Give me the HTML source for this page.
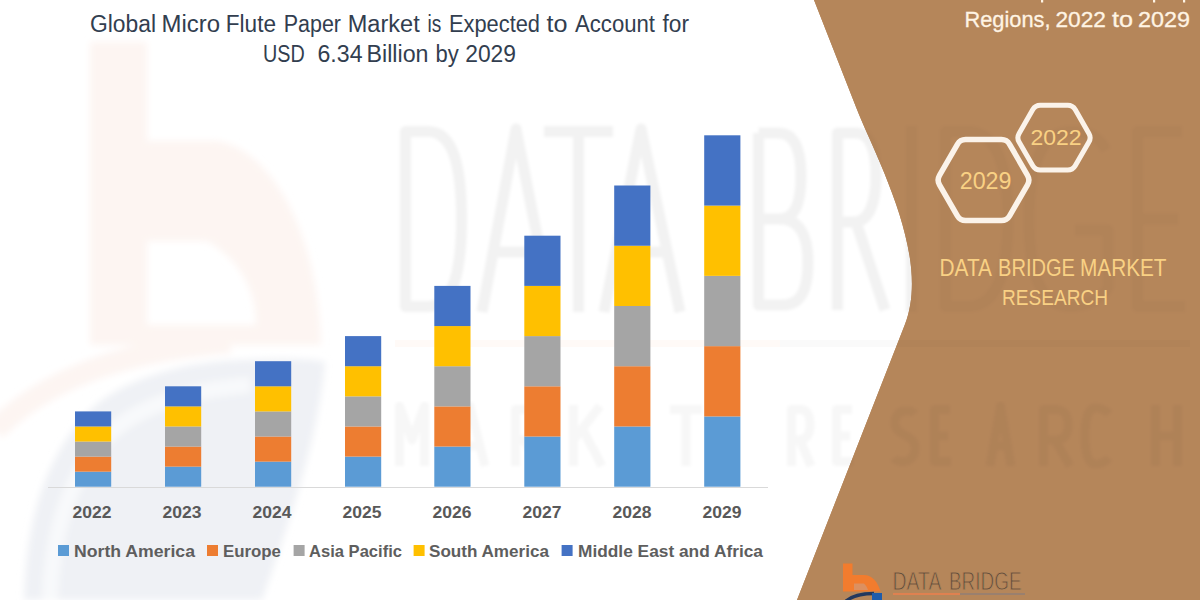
<!DOCTYPE html>
<html><head><meta charset="utf-8">
<style>
html,body{margin:0;padding:0;background:#fff;}
body{width:1200px;height:600px;overflow:hidden;position:relative;font-family:"Liberation Sans",sans-serif;}
svg{position:absolute;left:0;top:0;}
</style></head>
<body>
<svg width="1200" height="600" viewBox="0 0 1200 600" style="font-family:'Liberation Sans',sans-serif">
  <!-- brown panel -->
  <!-- watermark logo b -->
  <g id="wm-logo" filter="url(#soft2)">
    <path d="M24 600 C26 520 45 455 92 408 C130 375 190 362 240 360 C280 358 310 358 325 362 C318 440 290 520 262 600 Z" fill="#EFF1F5"/>
    
    <path d="M50 600 C52 530 70 475 108 435 C140 405 190 390 250 385" fill="none" stroke="#F8F9FB" stroke-width="16"/>
    <path d="M90 42 H147 V141 H218 C270 150 318 230 321 345 H90 Z M147 241 H207 C240 260 256 290 256 325 H147 Z" fill="#FDF5F2" fill-rule="evenodd"/>
    <path d="M-5 430 C40 385 110 352 230 342" fill="none" stroke="#FDF5F2" stroke-width="22"/>
  </g>
  <path id="panel" d="M814 0 L856.4 108 C875.8 157.3 931.5 256.8 904.8 324.8 L797 600 L1200 600 L1200 0 Z" fill="#B5865A"/>
  <defs>
    <clipPath id="pclip"><path d="M814 0 L856.4 108 C875.8 157.3 931.5 256.8 904.8 324.8 L797 600 L1200 600 L1200 0 Z"/></clipPath>
    <filter id="soft2" x="-10%" y="-10%" width="120%" height="120%"><feGaussianBlur stdDeviation="3.5"/></filter>
    <filter id="soft3" x="-20%" y="-20%" width="140%" height="140%"><feGaussianBlur stdDeviation="0.6"/></filter>
    <filter id="soft" x="-5%" y="-5%" width="110%" height="110%"><feGaussianBlur stdDeviation="1.8"/></filter>
    <g id="bigletters">
    <path d="M405.5 131.5 V306.5 H428 C452 306.5 461.5 275 461.5 219 C461.5 163 452 131.5 428 131.5 Z"/>
    <path d="M482 312 L516 129 L552 312 M494 252 H540"/>
    <path d="M544 131.5 H613 M578.5 131.5 V312"/>
    <path d="M604 312 L641 129 L680 312 M616 252 H668"/>
    <path d="M758.5 133 V305 H783 C801 305 808 290 808 262 C808 235 799 219 780 219 H758.5 M780 219 C794 219 801 205 801 176 C801 148 794 133 778 133 H758.5"/>
    <path d="M837.5 310 V133 H856 C870 133 876 150 876 176 C876 205 868 222 854 222 H837.5 M856 222 L885 310"/>
    <path d="M911.5 126 V312"/>
    <path d="M945.5 131.5 V306.5 H968 C995 306.5 1008 275 1008 219 C1008 163 995 131.5 968 131.5 Z"/>
    <path d="M1106 150 C1098 135 1088 131.5 1070 131.5 C1042 131.5 1029 165 1029 219 C1029 275 1042 306.5 1070 306.5 C1088 306.5 1102 298 1108 288 V230 H1075"/>
    <path d="M1182 131.5 H1137.5 V306.5 H1185 M1137.5 219 H1178"/>
    </g>
  </defs>
  <g fill="none" stroke="#000" stroke-opacity="0.05" stroke-width="11" stroke-linejoin="round" filter="url(#soft)"><use href="#bigletters"/></g>
  <g clip-path="url(#pclip)"><rect x="780" y="0" width="420" height="600" fill="#B5865A"/>
  <g fill="none" stroke="#000" stroke-opacity="0.025" stroke-width="11" stroke-linejoin="round" filter="url(#soft)"><use href="#bigletters"/></g>
  </g>
  <rect x="395" y="340" width="385" height="7" fill="#FF6A00" fill-opacity="0.03"/>
  <rect x="780" y="340" width="410" height="7" fill="#000" fill-opacity="0.02"/>
  <g fill="none" stroke="#000" stroke-opacity="0.03" stroke-width="9" stroke-linejoin="round" filter="url(#soft)">
    <path d="M399.5 466 V406 L412 440 L424.5 406 V466"/>
    <path d="M455 466 L470 406 L485 466 M460 446 H480"/>
    <path d="M515.5 466 V409.5 H525 C533 409.5 536 415 536 425 C536 435 532 440 524 440 H515.5 M525 440 L538 466"/>
    <path d="M573.5 405 V466 M573.5 440 L600 406 M583 430 L602 466"/>
    <path d="M647 409.5 H631.5 V461.5 H648 M631.5 436 H645"/>
    <path d="M670 409.5 H702 M686 409.5 V466"/>
    <path d="M791.5 466 V409.5 H800 C808 409.5 810 415 810 425 C810 435 806 440 799 440 H791.5 M800 440 L811 466"/>
    <path d="M852 409.5 H836.5 V461.5 H853 M836.5 436 H850"/>
    <path d="M915 414 C911 409 895 408 895 423 C895 437 915 433 915 448 C915 464 898 464 894 458"/>
    <path d="M950 409.5 H934.5 V461.5 H951 M934.5 436 H948"/>
    <path d="M990 466 L1000.5 406 L1011 466 M994 446 H1007"/>
    <path d="M1043.5 466 V409.5 H1055 C1065 409.5 1068 415 1068 425 C1068 435 1064 440 1055 440 H1043.5 M1055 440 L1070 466"/>
    <path d="M1109 414 C1105 409 1100 408 1095 408 C1088 408 1085 420 1085 436 C1085 452 1088 464 1095 464 C1100 464 1105 463 1109 458"/>
    <path d="M1155.5 405 V466 M1177.5 405 V466 M1155.5 436 H1177.5"/>
  </g>
  <!-- axis -->
  <rect x="48" y="487" width="720" height="1" fill="#D9D9D9"/>

  <!-- bars -->
  <g id="bars">
<rect x="75" y="471.64" width="36.2" height="15.07" fill="#5B9BD5"/>
<rect x="75" y="456.58" width="36.2" height="15.07" fill="#ED7D31"/>
<rect x="75" y="441.52" width="36.2" height="15.07" fill="#A5A5A5"/>
<rect x="75" y="426.46" width="36.2" height="15.07" fill="#FFC000"/>
<rect x="75" y="411.40" width="36.2" height="15.07" fill="#4472C4"/>
<rect x="165" y="466.62" width="36.2" height="20.09" fill="#5B9BD5"/>
<rect x="165" y="446.54" width="36.2" height="20.09" fill="#ED7D31"/>
<rect x="165" y="426.46" width="36.2" height="20.09" fill="#A5A5A5"/>
<rect x="165" y="406.38" width="36.2" height="20.09" fill="#FFC000"/>
<rect x="165" y="386.30" width="36.2" height="20.09" fill="#4472C4"/>
<rect x="255" y="461.60" width="36.2" height="25.11" fill="#5B9BD5"/>
<rect x="255" y="436.50" width="36.2" height="25.11" fill="#ED7D31"/>
<rect x="255" y="411.40" width="36.2" height="25.11" fill="#A5A5A5"/>
<rect x="255" y="386.30" width="36.2" height="25.11" fill="#FFC000"/>
<rect x="255" y="361.20" width="36.2" height="25.11" fill="#4472C4"/>
<rect x="345" y="456.58" width="36.2" height="30.13" fill="#5B9BD5"/>
<rect x="345" y="426.46" width="36.2" height="30.13" fill="#ED7D31"/>
<rect x="345" y="396.34" width="36.2" height="30.13" fill="#A5A5A5"/>
<rect x="345" y="366.22" width="36.2" height="30.13" fill="#FFC000"/>
<rect x="345" y="336.10" width="36.2" height="30.13" fill="#4472C4"/>
<rect x="434.3" y="446.54" width="36.2" height="40.17" fill="#5B9BD5"/>
<rect x="434.3" y="406.38" width="36.2" height="40.17" fill="#ED7D31"/>
<rect x="434.3" y="366.22" width="36.2" height="40.17" fill="#A5A5A5"/>
<rect x="434.3" y="326.06" width="36.2" height="40.17" fill="#FFC000"/>
<rect x="434.3" y="285.90" width="36.2" height="40.17" fill="#4472C4"/>
<rect x="524.3" y="436.50" width="36.2" height="50.21" fill="#5B9BD5"/>
<rect x="524.3" y="386.30" width="36.2" height="50.21" fill="#ED7D31"/>
<rect x="524.3" y="336.10" width="36.2" height="50.21" fill="#A5A5A5"/>
<rect x="524.3" y="285.90" width="36.2" height="50.21" fill="#FFC000"/>
<rect x="524.3" y="235.70" width="36.2" height="50.21" fill="#4472C4"/>
<rect x="614.2" y="426.46" width="36.2" height="60.25" fill="#5B9BD5"/>
<rect x="614.2" y="366.22" width="36.2" height="60.25" fill="#ED7D31"/>
<rect x="614.2" y="305.98" width="36.2" height="60.25" fill="#A5A5A5"/>
<rect x="614.2" y="245.74" width="36.2" height="60.25" fill="#FFC000"/>
<rect x="614.2" y="185.50" width="36.2" height="60.25" fill="#4472C4"/>
<rect x="704.2" y="416.42" width="36.2" height="70.29" fill="#5B9BD5"/>
<rect x="704.2" y="346.14" width="36.2" height="70.29" fill="#ED7D31"/>
<rect x="704.2" y="275.86" width="36.2" height="70.29" fill="#A5A5A5"/>
<rect x="704.2" y="205.58" width="36.2" height="70.29" fill="#FFC000"/>
<rect x="704.2" y="135.30" width="36.2" height="70.29" fill="#4472C4"/>
</g>

  <!-- title -->
<g font-size="23.3" fill="#323E4F">
  <text x="90.00" y="31.75" textLength="66.00" lengthAdjust="spacingAndGlyphs">Global</text>
  <text x="161.50" y="31.75" textLength="58.50" lengthAdjust="spacingAndGlyphs">Micro</text>
  <text x="225.75" y="31.75" textLength="50.25" lengthAdjust="spacingAndGlyphs">Flute</text>
  <text x="283.75" y="31.75" textLength="57.25" lengthAdjust="spacingAndGlyphs">Paper</text>
  <text x="347.75" y="31.75" textLength="72.00" lengthAdjust="spacingAndGlyphs">Market</text>
  <text x="427.50" y="31.75" textLength="13.75" lengthAdjust="spacingAndGlyphs">is</text>
  <text x="449.00" y="31.75" textLength="91.00" lengthAdjust="spacingAndGlyphs">Expected</text>
  <text x="546.50" y="31.75" textLength="21.00" lengthAdjust="spacingAndGlyphs">to</text>
  <text x="575.00" y="31.75" textLength="80.00" lengthAdjust="spacingAndGlyphs">Account</text>
  <text x="662.50" y="31.75" textLength="26.50" lengthAdjust="spacingAndGlyphs">for</text>
  <text x="263.00" y="61.5" textLength="41.75" lengthAdjust="spacingAndGlyphs">USD</text>
  <text x="317.50" y="61.5" textLength="45.00" lengthAdjust="spacingAndGlyphs">6.34</text>
  <text x="366.50" y="61.5" textLength="62.00" lengthAdjust="spacingAndGlyphs">Billion</text>
  <text x="435.50" y="61.5" textLength="23.25" lengthAdjust="spacingAndGlyphs">by</text>
  <text x="465.25" y="61.5" textLength="50.75" lengthAdjust="spacingAndGlyphs">2029</text>
</g>
  <!-- year labels -->
  <g font-weight="bold" font-size="17.4" fill="#595959">
    <text x="72.4" y="518.3" textLength="39" lengthAdjust="spacingAndGlyphs">2022</text>
    <text x="162.4" y="518.3" textLength="39" lengthAdjust="spacingAndGlyphs">2023</text>
    <text x="252.4" y="518.3" textLength="39" lengthAdjust="spacingAndGlyphs">2024</text>
    <text x="342.4" y="518.3" textLength="39" lengthAdjust="spacingAndGlyphs">2025</text>
    <text x="432.4" y="518.3" textLength="39" lengthAdjust="spacingAndGlyphs">2026</text>
    <text x="522.4" y="518.3" textLength="39" lengthAdjust="spacingAndGlyphs">2027</text>
    <text x="612.4" y="518.3" textLength="39" lengthAdjust="spacingAndGlyphs">2028</text>
    <text x="702.4" y="518.3" textLength="39" lengthAdjust="spacingAndGlyphs">2029</text>
  </g>

  <!-- legend -->
  <g font-weight="bold" font-size="16.7" fill="#5E5E5E">
    <rect x="58" y="545" width="11" height="11" fill="#5B9BD5"/>
    <text x="74" y="556.5" textLength="121" lengthAdjust="spacingAndGlyphs">North America</text>
    <rect x="207" y="545" width="11" height="11" fill="#ED7D31"/>
    <text x="223" y="556.5" textLength="58" lengthAdjust="spacingAndGlyphs">Europe</text>
    <rect x="293.6" y="545" width="11" height="11" fill="#A5A5A5"/>
    <text x="309" y="556.5" textLength="93" lengthAdjust="spacingAndGlyphs">Asia Pacific</text>
    <rect x="413.6" y="545" width="11" height="11" fill="#FFC000"/>
    <text x="429" y="556.5" textLength="120" lengthAdjust="spacingAndGlyphs">South America</text>
    <rect x="561.6" y="545" width="11" height="11" fill="#4472C4"/>
    <text x="578" y="556.5" textLength="185" lengthAdjust="spacingAndGlyphs">Middle East and Africa</text>
  </g>

  <!-- bottom logo -->
  <g id="logo">
    <path d="M843 563.5 H852.5 V575 H864 C872 575 878 582 880.5 591.5 H843 Z" fill="#F27B2E" filter="url(#soft3)"/>
    <path d="M854 583.5 H864 C866 585.5 867.5 588 868 590 H854 Z" fill="#DC9060" filter="url(#soft3)"/>
    <path d="M846 601 C852 596 862 593.5 874 593.5" fill="none" stroke="#22385E" stroke-width="3.5"/>
    <rect x="872" y="593" width="10" height="7" fill="#1F5CAB"/>
    <g font-size="25.2" fill="#5E4C3C" stroke="#B5865A" stroke-width="0.9"><text x="892.5" y="590" textLength="49" lengthAdjust="spacingAndGlyphs">DATA</text><text x="949" y="590" textLength="72.5" lengthAdjust="spacingAndGlyphs">BRIDGE</text></g>
    <rect x="893" y="593" width="67" height="2" fill="#DF8150"/>
    <rect x="960" y="593" width="65" height="2" fill="#9A806E"/>
  </g>
  <!-- partial descenders of previous line -->
  <g fill="#FFF4E4">
    <rect x="1041" y="0" width="2.2" height="2.5"/>
    <rect x="1153" y="0" width="2.2" height="2.5"/>
    <rect x="1183" y="0" width="2.2" height="2.5"/>
  </g>
  <!-- right panel text -->
  <g font-size="22.5" fill="#FFF4E4" stroke="#FFF4E4" stroke-width="0.3"><text x="964.5" y="27" textLength="86" lengthAdjust="spacingAndGlyphs">Regions,</text><text x="1055.5" y="27" textLength="50.5" lengthAdjust="spacingAndGlyphs">2022</text><text x="1112" y="27" textLength="21" lengthAdjust="spacingAndGlyphs">to</text><text x="1138" y="27" textLength="52" lengthAdjust="spacingAndGlyphs">2029</text></g>

  <!-- hexagons -->
  <path d="M1088.9 133.4 Q1091.4 137.7 1088.9 142.0 L1075.2 165.8 Q1072.7 170.1 1067.7 170.1 L1040.3 170.1 Q1035.3 170.1 1032.8 165.8 L1019.1 142.0 Q1016.6 137.7 1019.1 133.4 L1032.8 109.6 Q1035.3 105.3 1040.3 105.3 L1067.7 105.3 Q1072.7 105.3 1075.2 109.6 Z" fill="none" stroke="#FBF3EA" stroke-width="5"/>
  <path d="M1027.5 175.3 Q1030.3 180.1 1027.5 184.9 L1009.6 215.9 Q1006.9 220.6 1001.4 220.6 L965.6 220.6 Q960.1 220.6 957.4 215.9 L939.5 184.9 Q936.7 180.1 939.5 175.3 L957.4 144.3 Q960.1 139.6 965.6 139.6 L1001.4 139.6 Q1006.9 139.6 1009.6 144.3 Z" fill="none" stroke="#FBF3EA" stroke-width="5.5"/>
  <text x="1030.4" y="145.3" font-size="22.6" fill="#F9D184" textLength="51.2" lengthAdjust="spacingAndGlyphs">2022</text>
  <text x="959.7" y="188.8" font-size="23" fill="#F9D184" textLength="51.8" lengthAdjust="spacingAndGlyphs">2029</text>

  <g font-size="24" fill="#F9D184"><text x="939.5" y="276" textLength="52.5" lengthAdjust="spacingAndGlyphs">DATA</text><text x="998" y="276" textLength="77" lengthAdjust="spacingAndGlyphs">BRIDGE</text><text x="1080" y="276" textLength="86.5" lengthAdjust="spacingAndGlyphs">MARKET</text></g>
  <text x="1002" y="304.9" font-size="22.4" fill="#F9D184" textLength="106" lengthAdjust="spacingAndGlyphs">RESEARCH</text>
</svg>
<script>
</script>
</body></html>
